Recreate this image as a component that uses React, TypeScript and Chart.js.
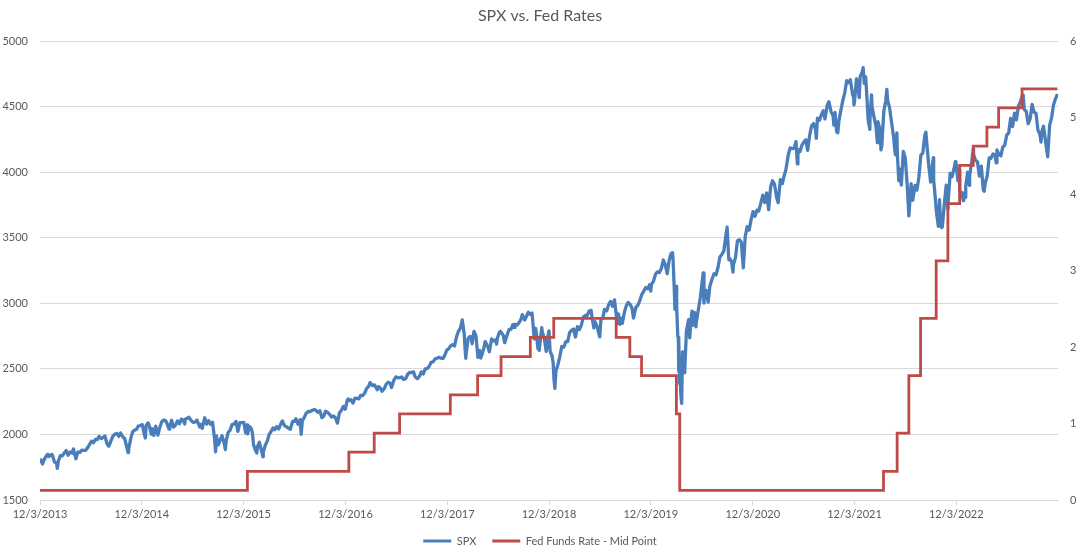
import React, { useEffect, useRef } from "react";
import { Chart, registerables } from "chart.js";

Chart.register(...registerables);

const TITLE = "SPX vs. Fed Rates";
const SPX_LABEL = "SPX";
const FED_LABEL = "Fed Funds Rate - Mid Point";
const START_DATE = "2013-12-03";
const END_DATE = "2023-12-03";

const xTickLabels = [
  "12/3/2013", "12/3/2014", "12/3/2015", "12/3/2016", "12/3/2017",
  "12/3/2018", "12/3/2019", "12/3/2020", "12/3/2021", "12/3/2022",
];
const leftTicks = [1500, 2000, 2500, 3000, 3500, 4000, 4500, 5000];
const rightTicks = [0, 1, 2, 3, 4, 5, 6];

type Pt = [string, number];

const spx2013: Pt[] = [["12-03", 1795], ["12-06", 1805], ["12-12", 1775], ["12-18", 1810], ["12-20", 1818], ["12-27", 1841], ["12-31", 1848]];
const spx2014: Pt[] = [
  ["01-03", 1831], ["01-10", 1842], ["01-15", 1848], ["01-17", 1838], ["01-24", 1790], ["01-31", 1783], ["02-03", 1741], ["02-07", 1797],
  ["02-14", 1838], ["02-21", 1836], ["02-28", 1859], ["03-07", 1878], ["03-14", 1841], ["03-21", 1866], ["03-28", 1857], ["04-02", 1890],
  ["04-04", 1865], ["04-11", 1815], ["04-17", 1864], ["04-25", 1863], ["05-02", 1881], ["05-09", 1878], ["05-16", 1878], ["05-23", 1900],
  ["05-30", 1924], ["06-06", 1949], ["06-13", 1937], ["06-20", 1963], ["06-27", 1961], ["07-03", 1985], ["07-11", 1968], ["07-18", 1978],
  ["07-24", 1988], ["07-31", 1931], ["08-07", 1910], ["08-15", 1955], ["08-22", 1988], ["08-29", 2003], ["09-05", 2007], ["09-12", 1985],
  ["09-18", 2011], ["09-26", 1982], ["10-03", 1967], ["10-10", 1906], ["10-15", 1862], ["10-17", 1886], ["10-24", 1964], ["10-31", 2018],
  ["11-07", 2032], ["11-14", 2039], ["11-21", 2064], ["11-28", 2068], ["12-05", 2075], ["12-12", 2002], ["12-16", 1973], ["12-19", 2070],
  ["12-26", 2088], ["12-31", 2059],
];
const spx2015: Pt[] = [
  ["01-06", 2003], ["01-09", 2044], ["01-15", 1992], ["01-22", 2063], ["01-30", 1995], ["02-06", 2055], ["02-13", 2097], ["02-20", 2110],
  ["02-27", 2104], ["03-06", 2071], ["03-11", 2040], ["03-13", 2053], ["03-20", 2108], ["03-26", 2056], ["04-02", 2067], ["04-10", 2102],
  ["04-17", 2081], ["04-24", 2117], ["05-01", 2108], ["05-06", 2080], ["05-08", 2116], ["05-15", 2123], ["05-21", 2131], ["05-29", 2107],
  ["06-05", 2092], ["06-12", 2094], ["06-19", 2110], ["06-29", 2057], ["07-02", 2077], ["07-08", 2046], ["07-17", 2127], ["07-24", 2079],
  ["07-31", 2104], ["08-07", 2078], ["08-14", 2092], ["08-21", 1971], ["08-25", 1868], ["08-28", 1989], ["09-04", 1921], ["09-11", 1961],
  ["09-17", 1990], ["09-25", 1931], ["09-29", 1884], ["10-02", 1951], ["10-09", 2015], ["10-16", 2033], ["10-23", 2075], ["10-30", 2079],
  ["11-06", 2099], ["11-13", 2023], ["11-20", 2089], ["11-27", 2090], ["12-04", 2092], ["12-11", 2012], ["12-16", 2073], ["12-18", 2005],
  ["12-24", 2061], ["12-31", 2044],
];
const spx2016: Pt[] = [
  ["01-04", 2012], ["01-08", 1922], ["01-15", 1880], ["01-20", 1859], ["01-22", 1907], ["01-29", 1940], ["02-05", 1880], ["02-11", 1829],
  ["02-12", 1865], ["02-19", 1918], ["02-26", 1948], ["03-04", 2000], ["03-11", 2022], ["03-18", 2050], ["03-24", 2036], ["03-31", 2060],
  ["04-07", 2041], ["04-15", 2081], ["04-20", 2102], ["04-22", 2092], ["04-29", 2065], ["05-06", 2057], ["05-13", 2047], ["05-19", 2040],
  ["05-27", 2099], ["06-03", 2099], ["06-08", 2119], ["06-16", 2077], ["06-23", 2113], ["06-27", 2001], ["07-01", 2103], ["07-08", 2130],
  ["07-15", 2162], ["07-22", 2175], ["07-29", 2173], ["08-05", 2183], ["08-15", 2190], ["08-19", 2184], ["08-26", 2169], ["09-02", 2180],
  ["09-09", 2128], ["09-16", 2139], ["09-22", 2177], ["09-30", 2168], ["10-07", 2153], ["10-14", 2133], ["10-21", 2141], ["10-28", 2126],
  ["11-04", 2085], ["11-11", 2164], ["11-18", 2182], ["11-25", 2213], ["12-02", 2192], ["12-09", 2260], ["12-13", 2271], ["12-16", 2258],
  ["12-23", 2264], ["12-30", 2239],
];
const spx2017: Pt[] = [
  ["01-06", 2277], ["01-13", 2275], ["01-20", 2271], ["01-26", 2297], ["02-03", 2297], ["02-10", 2316], ["02-17", 2351], ["02-24", 2367],
  ["03-01", 2395], ["03-10", 2372], ["03-17", 2378], ["03-27", 2341], ["03-31", 2363], ["04-07", 2355], ["04-13", 2329], ["04-21", 2349],
  ["04-28", 2384], ["05-05", 2399], ["05-12", 2391], ["05-17", 2357], ["05-26", 2416], ["06-02", 2439], ["06-09", 2432], ["06-16", 2433],
  ["06-23", 2438], ["06-29", 2419], ["07-07", 2425], ["07-14", 2459], ["07-21", 2473], ["07-28", 2472], ["08-04", 2477], ["08-10", 2438],
  ["08-18", 2426], ["08-25", 2443], ["09-01", 2477], ["09-08", 2461], ["09-15", 2500], ["09-22", 2502], ["09-29", 2519], ["10-06", 2549],
  ["10-13", 2553], ["10-20", 2575], ["10-27", 2581], ["11-03", 2588], ["11-10", 2582], ["11-17", 2579], ["11-24", 2602], ["12-01", 2642],
  ["12-08", 2652], ["12-15", 2675], ["12-22", 2684], ["12-29", 2674],
];
const spx2018: Pt[] = [
  ["01-05", 2743], ["01-12", 2786], ["01-19", 2810], ["01-26", 2873], ["02-02", 2762], ["02-05", 2649], ["02-07", 2682], ["02-08", 2581],
  ["02-09", 2620], ["02-16", 2732], ["02-23", 2747], ["02-27", 2744], ["03-02", 2691], ["03-09", 2786], ["03-16", 2752], ["03-23", 2588],
  ["03-27", 2613], ["03-29", 2641], ["04-02", 2582], ["04-06", 2604], ["04-13", 2656], ["04-18", 2708], ["04-27", 2670], ["05-03", 2630],
  ["05-11", 2728], ["05-18", 2713], ["05-25", 2721], ["05-29", 2690], ["06-01", 2735], ["06-08", 2779], ["06-12", 2786], ["06-22", 2755],
  ["06-27", 2700], ["07-06", 2760], ["07-13", 2801], ["07-20", 2802], ["07-26", 2837], ["07-31", 2816], ["08-03", 2840], ["08-10", 2833],
  ["08-17", 2850], ["08-24", 2875], ["08-29", 2914], ["09-07", 2872], ["09-14", 2905], ["09-20", 2931], ["09-28", 2914], ["10-03", 2926],
  ["10-05", 2885], ["10-11", 2728], ["10-16", 2809], ["10-19", 2768], ["10-24", 2656], ["10-29", 2641], ["11-02", 2723], ["11-07", 2814],
  ["11-09", 2781], ["11-16", 2736], ["11-23", 2633], ["11-30", 2760], ["12-03", 2790], ["12-07", 2633], ["12-14", 2600], ["12-18", 2546],
  ["12-21", 2417], ["12-24", 2351], ["12-28", 2486],
];
const spx2019: Pt[] = [
  ["01-04", 2532], ["01-11", 2596], ["01-18", 2671], ["01-25", 2665], ["02-01", 2707], ["02-08", 2708], ["02-15", 2776], ["02-22", 2793],
  ["03-01", 2804], ["03-08", 2743], ["03-15", 2822], ["03-22", 2800], ["03-29", 2834], ["04-05", 2893], ["04-12", 2907], ["04-18", 2905],
  ["04-26", 2940], ["05-03", 2946], ["05-07", 2884], ["05-13", 2812], ["05-17", 2860], ["05-24", 2826], ["06-03", 2744], ["06-07", 2873],
  ["06-14", 2887], ["06-20", 2954], ["06-28", 2942], ["07-05", 2990], ["07-12", 3014], ["07-19", 2977], ["07-26", 3026], ["08-05", 2845],
  ["08-09", 2919], ["08-14", 2840], ["08-16", 2889], ["08-23", 2847], ["08-30", 2926], ["09-06", 2979], ["09-13", 3007], ["09-20", 2992],
  ["09-27", 2962], ["10-02", 2887], ["10-11", 2970], ["10-18", 2986], ["10-25", 3023], ["11-01", 3067], ["11-08", 3093], ["11-15", 3120],
  ["11-22", 3110], ["11-29", 3141], ["12-03", 3093], ["12-06", 3146], ["12-13", 3169], ["12-20", 3221], ["12-27", 3240],
];
const spx2020: Pt[] = [
  ["01-03", 3235], ["01-10", 3265], ["01-17", 3330], ["01-24", 3295], ["01-31", 3226], ["02-07", 3328], ["02-14", 3380], ["02-19", 3386],
  ["02-21", 3338], ["02-25", 3128], ["02-28", 2954], ["03-03", 3003], ["03-04", 3130], ["03-06", 2972], ["03-09", 2747], ["03-11", 2741],
  ["03-12", 2481], ["03-13", 2711], ["03-16", 2386], ["03-18", 2398], ["03-20", 2305], ["03-23", 2237], ["03-26", 2630], ["03-27", 2541],
  ["04-01", 2471], ["04-03", 2489], ["04-09", 2790], ["04-17", 2875], ["04-21", 2737], ["04-24", 2837], ["04-29", 2940], ["05-01", 2831],
  ["05-08", 2930], ["05-13", 2820], ["05-15", 2864], ["05-22", 2955], ["05-29", 3044], ["06-08", 3232], ["06-11", 3002], ["06-12", 3041],
  ["06-19", 3098], ["06-26", 3009], ["07-02", 3130], ["07-10", 3185], ["07-17", 3225], ["07-24", 3216], ["07-31", 3271], ["08-07", 3351],
  ["08-14", 3373], ["08-21", 3397], ["08-28", 3508], ["09-02", 3580], ["09-08", 3332], ["09-11", 3341], ["09-18", 3319], ["09-23", 3237],
  ["09-25", 3298], ["10-02", 3348], ["10-09", 3477], ["10-16", 3484], ["10-23", 3465], ["10-30", 3270], ["11-06", 3510], ["11-13", 3585],
  ["11-20", 3558], ["11-27", 3638], ["12-04", 3699], ["12-11", 3663], ["12-18", 3709], ["12-24", 3703], ["12-31", 3756],
];
const spx2021: Pt[] = [
  ["01-08", 3825], ["01-15", 3768], ["01-22", 3841], ["01-27", 3750], ["01-29", 3714], ["02-05", 3886], ["02-12", 3934], ["02-19", 3907],
  ["02-25", 3829], ["02-26", 3811], ["03-04", 3768], ["03-12", 3943], ["03-19", 3913], ["03-26", 3975], ["04-01", 4020], ["04-09", 4129],
  ["04-16", 4185], ["04-23", 4180], ["04-30", 4181], ["05-07", 4233], ["05-12", 4063], ["05-14", 4174], ["05-21", 4156], ["05-28", 4204],
  ["06-04", 4230], ["06-11", 4247], ["06-18", 4166], ["06-25", 4281], ["07-02", 4352], ["07-09", 4370], ["07-16", 4327], ["07-19", 4258],
  ["07-23", 4412], ["07-30", 4395], ["08-06", 4437], ["08-13", 4468], ["08-19", 4406], ["08-27", 4509], ["09-02", 4537], ["09-10", 4459],
  ["09-17", 4433], ["09-20", 4358], ["09-24", 4455], ["09-30", 4308], ["10-04", 4300], ["10-08", 4391], ["10-15", 4471], ["10-22", 4545],
  ["10-29", 4605], ["11-05", 4697], ["11-12", 4682], ["11-18", 4705], ["11-26", 4595], ["11-30", 4567], ["12-01", 4513], ["12-03", 4538],
  ["12-10", 4712], ["12-17", 4620], ["12-20", 4568], ["12-23", 4726], ["12-31", 4766],
];
const spx2022: Pt[] = [
  ["01-03", 4797], ["01-07", 4677], ["01-12", 4726], ["01-14", 4663], ["01-21", 4398], ["01-27", 4326], ["01-28", 4432], ["02-02", 4589],
  ["02-04", 4501], ["02-11", 4419], ["02-18", 4349], ["02-23", 4225], ["02-25", 4385], ["03-04", 4329], ["03-08", 4170], ["03-11", 4204],
  ["03-18", 4463], ["03-25", 4543], ["03-29", 4631], ["04-01", 4546], ["04-08", 4488], ["04-14", 4393], ["04-22", 4272], ["04-26", 4175],
  ["04-29", 4132], ["05-04", 4300], ["05-06", 4123], ["05-11", 3935], ["05-13", 4024], ["05-20", 3901], ["05-27", 4158], ["06-03", 4109],
  ["06-10", 3901], ["06-16", 3667], ["06-24", 3912], ["06-30", 3785], ["07-08", 3899], ["07-15", 3863], ["07-22", 3962], ["07-29", 4130],
  ["08-05", 4145], ["08-12", 4280], ["08-16", 4305], ["08-19", 4228], ["08-26", 4058], ["09-02", 3924], ["09-09", 4067], ["09-12", 4110],
  ["09-13", 3932], ["09-16", 3873], ["09-23", 3693], ["09-30", 3586], ["10-04", 3791], ["10-07", 3640], ["10-12", 3577], ["10-14", 3583],
  ["10-21", 3752], ["10-28", 3901], ["11-03", 3720], ["11-04", 3771], ["11-10", 3956], ["11-11", 3993], ["11-18", 3965], ["11-25", 4026],
  ["11-30", 4080], ["12-02", 4072], ["12-09", 3934], ["12-13", 4019], ["12-16", 3852], ["12-23", 3845], ["12-28", 3783], ["12-30", 3840],
];
const spx2023: Pt[] = [
  ["01-05", 3808], ["01-06", 3895], ["01-13", 3999], ["01-19", 3899], ["01-20", 3973], ["01-27", 4071], ["02-02", 4180], ["02-03", 4136],
  ["02-10", 4090], ["02-17", 4079], ["02-24", 3970], ["03-03", 4046], ["03-10", 3862], ["03-13", 3855], ["03-17", 3917], ["03-24", 3971],
  ["03-31", 4109], ["04-06", 4105], ["04-14", 4138], ["04-21", 4133], ["04-25", 4071], ["04-28", 4169], ["05-05", 4136], ["05-12", 4124],
  ["05-19", 4192], ["05-26", 4205], ["06-02", 4282], ["06-09", 4299], ["06-16", 4410], ["06-23", 4348], ["06-30", 4450], ["07-07", 4399],
  ["07-14", 4505], ["07-21", 4536], ["07-28", 4582], ["07-31", 4589], ["08-04", 4478], ["08-11", 4464], ["08-18", 4370], ["08-25", 4406],
  ["09-01", 4516], ["09-08", 4457], ["09-15", 4450], ["09-22", 4320], ["09-29", 4288], ["10-03", 4229], ["10-06", 4308], ["10-12", 4350],
  ["10-20", 4224], ["10-27", 4117], ["11-03", 4358], ["11-10", 4415], ["11-17", 4514], ["11-24", 4559], ["12-01", 4595],
];

const spxByYear: [number, Pt[]][] = [
  [2013, spx2013], [2014, spx2014], [2015, spx2015], [2016, spx2016], [2017, spx2017], [2018, spx2018],
  [2019, spx2019], [2020, spx2020], [2021, spx2021], [2022, spx2022], [2023, spx2023],
];

// Fed funds target range mid-point, by effective date (value holds until the next change)
const fedDates = [
  "2013-12-03", "2015-12-17", "2016-12-15", "2017-03-16", "2017-06-15", "2017-12-14", "2018-03-22", "2018-06-14",
  "2018-09-27", "2018-12-20", "2019-08-01", "2019-09-19", "2019-10-31", "2020-03-04", "2020-03-16", "2022-03-17",
  "2022-05-05", "2022-06-16", "2022-07-28", "2022-09-22", "2022-11-03", "2022-12-15", "2023-02-02", "2023-03-23",
  "2023-05-04", "2023-07-27", "2023-12-01",
];
const fedRates = [
  0.125, 0.375, 0.625, 0.875, 1.125, 1.375, 1.625, 1.875,
  2.125, 2.375, 2.125, 1.875, 1.625, 1.125, 0.125, 0.375,
  0.875, 1.625, 2.375, 3.125, 3.875, 4.375, 4.625, 4.875,
  5.125, 5.375, 5.375,
];

const BLUE = "#4A7EBB";
const RED = "#BE4B48";
const TEXT = "#595959";
const GRID = "#D9D9D9";
const FONT = "Lato, 'Open Sans', sans-serif";

const DAY = 86400000;
const toDay = (iso: string) => {
  const [y, m, d] = iso.split("-").map(Number);
  return (Date.UTC(y, m - 1, d) - Date.UTC(2013, 11, 3)) / DAY;
};
const usToDay = (label: string) => {
  const [m, d, y] = label.split("/").map(Number);
  return toDay(`${y}-${String(m).padStart(2, "0")}-${String(d).padStart(2, "0")}`);
};

export default function App() {
  const ref = useRef<HTMLCanvasElement | null>(null);

  useEffect(() => {
    if (!ref.current) return;
    const spxPoints: { x: number; y: number }[] = [];
    spxByYear.forEach(([yr, pts]) => {
      pts.forEach(([md, v]) => spxPoints.push({ x: toDay(`${yr}-${md}`), y: v }));
    });
    const fedPoints = fedDates.map((d, i) => ({ x: toDay(d), y: fedRates[i] }));
    const tickPositions = xTickLabels.map(usToDay);
    const labelAt = new Map<number, string>();
    tickPositions.forEach((p, i) => labelAt.set(p, xTickLabels[i]));

    const chart = new Chart(ref.current, {
      type: "line",
      data: {
        datasets: [
          {
            label: SPX_LABEL,
            data: spxPoints,
            borderColor: BLUE,
            backgroundColor: BLUE,
            borderWidth: 3.3,
            pointRadius: 0,
            tension: 0,
            borderJoinStyle: "round",
            yAxisID: "y",
            order: 2,
          },
          {
            label: FED_LABEL,
            data: fedPoints,
            borderColor: RED,
            backgroundColor: RED,
            borderWidth: 2.8,
            pointRadius: 0,
            stepped: "before",
            yAxisID: "y1",
            order: 1,
          },
        ],
      },
      options: {
        animation: false,
        responsive: false,
        devicePixelRatio: 1,
        layout: { padding: { top: 0, left: 0, right: 0, bottom: -5.5 } },
        plugins: {
          tooltip: { enabled: false },
          title: {
            display: true,
            text: TITLE,
            color: TEXT,
            font: { family: FONT, size: 16, weight: "normal" },
            padding: { top: 5.9, bottom: 15.9 },
          },
          legend: {
            display: true,
            position: "bottom",
            labels: {
              boxWidth: 28,
              boxHeight: 3,
              padding: 16,
              color: TEXT,
              font: { family: FONT, size: 11 },
              generateLabels: () => [
                { text: SPX_LABEL, fillStyle: BLUE, strokeStyle: BLUE, lineWidth: 0, hidden: false, datasetIndex: 0, fontColor: TEXT },
                { text: FED_LABEL, fillStyle: RED, strokeStyle: RED, lineWidth: 0, hidden: false, datasetIndex: 1, fontColor: TEXT },
              ],
            },
          },
        },
        scales: {
          x: {
            type: "linear",
            min: toDay(START_DATE),
            max: toDay(END_DATE),
            afterFit: (s: any) => { s.height = 19.5; },
            afterBuildTicks: (s: any) => { s.ticks = tickPositions.map((v) => ({ value: v })); },
            grid: { drawOnChartArea: false, drawTicks: true, tickLength: 5, color: GRID },
            border: { display: true, color: GRID, width: 1 },
            ticks: {
              autoSkip: false,
              maxRotation: 0,
              padding: 3,
              color: TEXT,
              font: { family: FONT, size: 11 },
              callback: (v: any) => labelAt.get(Number(v)) ?? "",
            },
          },
          y: {
            type: "linear",
            position: "left",
            min: 1500,
            max: 5000,
            afterFit: (s: any) => { s.width = 40; },
            afterBuildTicks: (s: any) => { s.ticks = leftTicks.map((v) => ({ value: v })); },
            grid: { color: GRID, drawTicks: false, lineWidth: 1 },
            border: { display: false },
            ticks: { padding: 12, color: TEXT, font: { family: FONT, size: 11 }, callback: (v: any) => String(v) },
          },
          y1: {
            type: "linear",
            position: "right",
            min: 0,
            max: 6,
            afterFit: (s: any) => { s.width = 22; },
            afterBuildTicks: (s: any) => { s.ticks = rightTicks.map((v) => ({ value: v })); },
            grid: { drawOnChartArea: false, drawTicks: false },
            border: { display: false },
            ticks: { padding: 12, color: TEXT, font: { family: FONT, size: 11 }, callback: (v: any) => String(v) },
          },
        },
      },
    } as any);
    return () => chart.destroy();
  }, []);

  return (
    <div style={{ position: "absolute", left: 0, top: 0, width: 1080, height: 551, background: "#fff" }}>
      <canvas ref={ref} width={1080} height={551} style={{ display: "block", width: 1080, height: 551 }} />
    </div>
  );
}
